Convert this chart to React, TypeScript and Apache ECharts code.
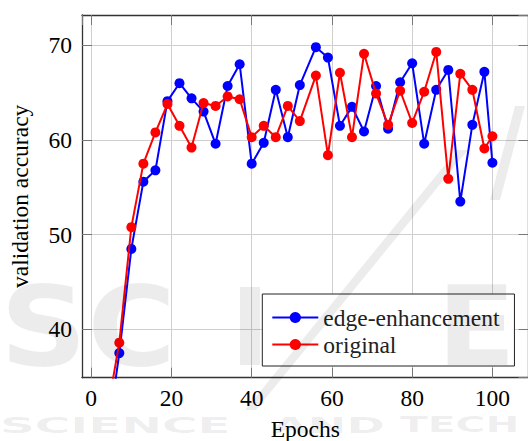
import React, { useEffect, useRef } from "react";
import * as echarts from "echarts";

const epochs = [4, 7, 10, 13, 16, 19, 22, 25, 28, 31, 34, 37, 40, 43, 46, 49, 52, 56, 59, 62, 65, 68, 71, 74, 77, 80, 83, 86, 89, 92, 95, 98, 100];
const edgeEnhancement = [28.4, 37.5, 48.5, 55.6, 56.8, 64.1, 66.0, 64.4, 63.0, 59.6, 65.7, 68.0, 57.5, 59.7, 65.3, 60.3, 65.8, 69.8, 68.7, 61.5, 63.5, 60.9, 65.7, 61.2, 66.1, 68.1, 59.6, 65.3, 67.4, 53.5, 61.6, 67.2, 57.6];
const original = [31.3, 38.6, 50.8, 57.5, 60.8, 63.8, 61.5, 59.2, 63.9, 63.6, 64.6, 64.3, 60.3, 61.5, 60.3, 63.6, 62.0, 66.8, 58.4, 67.1, 60.3, 69.1, 64.9, 61.6, 65.2, 61.8, 65.1, 69.3, 55.9, 67.0, 65.3, 59.1, 60.4];
const seriesNames = ["edge-enhancement", "original"];
const xTitle = "Epochs";
const yTitle = "validation accuracy";

export default function App() {
  const ref = useRef<HTMLDivElement>(null);
  useEffect(() => {
    const chart = echarts.init(ref.current!, undefined, { renderer: "svg" });
    const font = "Liberation Serif";
    const fs = 23.5;
    const wm = "rgba(0,0,0,0.075)";
    const frame = { show: true, onZero: false, lineStyle: { color: "#333", width: 1.3 } };
    const tick = { show: true, inside: true, length: 10, lineStyle: { color: "#777", width: 1 } };
    const xBase = { type: "value", min: -2.3, max: 109, minInterval: 20, maxInterval: 20 };
    const yBase = { type: "value", min: 34.9, max: 73.2, minInterval: 10, maxInterval: 10 };
    chart.setOption({
      animation: false,
      backgroundColor: "#fff",
      grid: { left: 82, top: 15, width: 446.5, height: 362.7, containLabel: false, outerBoundsMode: "none" },
      xAxis: [
        {
          ...xBase,
          position: "bottom",
          name: xTitle,
          nameLocation: "middle",
          nameGap: 39,
          nameTextStyle: { fontFamily: font, fontSize: fs, color: "#000" },
          axisLine: frame,
          axisTick: tick,
          axisLabel: { margin: 8, fontFamily: font, fontSize: fs, color: "#000", showMinLabel: false, showMaxLabel: false },
          splitLine: { show: true, lineStyle: { color: "#cfcfcf", width: 1 } },
        },
        {
          ...xBase,
          position: "top",
          axisLine: frame,
          axisTick: tick,
          axisLabel: { show: false },
          splitLine: { show: false },
        },
      ],
      yAxis: [
        {
          ...yBase,
          position: "left",
          name: yTitle,
          nameLocation: "middle",
          nameGap: 50,
          nameTextStyle: { fontFamily: font, fontSize: fs, color: "#000" },
          axisLine: frame,
          axisTick: tick,
          axisLabel: { margin: 10, fontFamily: font, fontSize: fs, color: "#000", showMinLabel: false, showMaxLabel: false },
          splitLine: { show: true, lineStyle: { color: "#cfcfcf", width: 1 } },
        },
        {
          ...yBase,
          position: "right",
          axisLine: frame,
          axisTick: tick,
          axisLabel: { show: false },
          splitLine: { show: false },
        },
      ],
      legend: {
        left: 262.3,
        top: 294,
        orient: "vertical",
        data: seriesNames,
        itemWidth: 46,
        itemHeight: 14,
        itemGap: 3,
        padding: [11.5, 15, 9.5, 9],
        borderColor: "#222",
        borderWidth: 1,
        borderRadius: 0,
        backgroundColor: "#fff",
        textStyle: { fontFamily: font, fontSize: fs, color: "#222" },
        z: 5,
      },
      series: [
        {
          type: "line",
          name: seriesNames[0],
          data: epochs.map((e, i) => [e, edgeEnhancement[i]]),
          symbol: "circle",
          symbolSize: 10,
          itemStyle: { color: "#0000ff" },
          lineStyle: { color: "#0000ff", width: 2 },
          clip: true,
          z: 2,
        },
        {
          type: "line",
          name: seriesNames[1],
          data: epochs.map((e, i) => [e, original[i]]),
          symbol: "circle",
          symbolSize: 10,
          itemStyle: { color: "#ff0000" },
          lineStyle: { color: "#ff0000", width: 2 },
          clip: true,
          z: 3,
        },
      ],
      graphic: [
        { type: "text", x: 0, y: 327, scaleX: 1.1, z: 100, silent: true, style: { text: "SC", fontFamily: "DejaVu Sans", fontWeight: "bold", fontSize: 110, fill: wm, verticalAlign: "middle" } },
        { type: "rect", z: 100, silent: true, shape: { x: 240, y: 287, width: 20, height: 78 }, style: { fill: wm } },
        { type: "text", x: 437, y: 327, scaleX: 1.05, z: 100, silent: true, style: { text: "E", fontFamily: "DejaVu Sans", fontWeight: "bold", fontSize: 110, fill: wm, verticalAlign: "middle" } },
        { type: "polygon", z: 100, silent: true, shape: { points: [[245, 410], [256, 410], [468, 150], [457, 150]] }, style: { fill: wm } },
        { type: "polygon", z: 100, silent: true, shape: { points: [[490, 200], [500, 200], [525, 106], [515, 106]] }, style: { fill: wm } },
        { type: "text", x: 0, y: 425, scaleX: 2.2, z: 100, silent: true, style: { text: "SCIENCE", fontFamily: "DejaVu Sans", fontWeight: "bold", fontSize: 22, fill: wm, verticalAlign: "middle" } },
        { type: "text", x: 272, y: 425, scaleX: 2.1, z: 100, silent: true, style: { text: "AND", fontFamily: "DejaVu Sans", fontWeight: "bold", fontSize: 22, fill: wm, verticalAlign: "middle" } },
        { type: "text", x: 400, y: 425, scaleX: 1.85, z: 100, silent: true, style: { text: "TECH", fontFamily: "DejaVu Sans", fontWeight: "bold", fontSize: 22, fill: wm, verticalAlign: "middle" } },
      ],
    });
    return () => chart.dispose();
  }, []);
  return <div ref={ref} style={{ position: "fixed", left: 0, top: 0, width: 528, height: 441 }} />;
}
